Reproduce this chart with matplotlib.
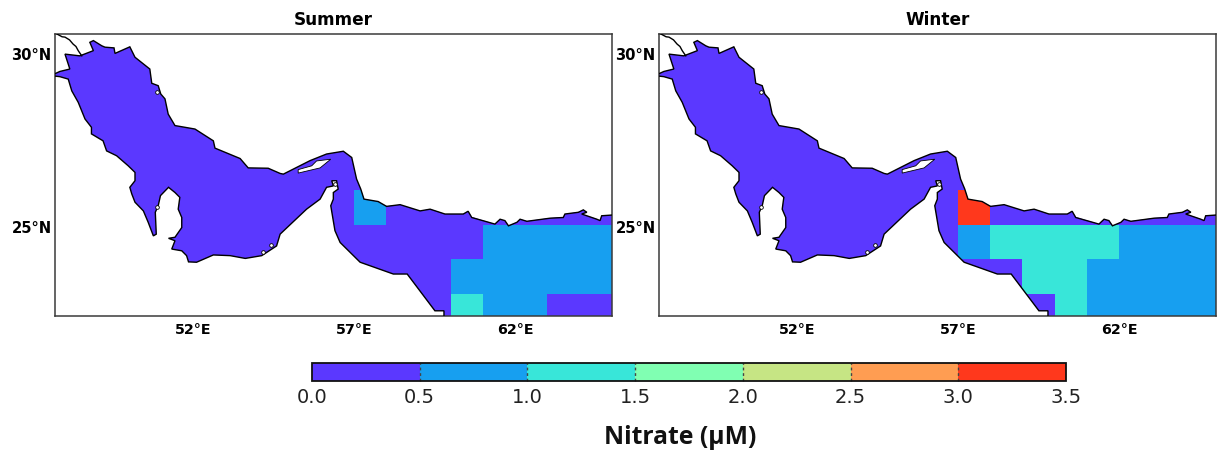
import numpy as np
import matplotlib
matplotlib.use("Agg")
import matplotlib.pyplot as plt
from matplotlib.colors import ListedColormap, BoundaryNorm
from matplotlib.patches import Polygon
from matplotlib.transforms import ScaledTranslation

W, H = 1221, 452

level_bounds = [0.0, 0.5, 1.0, 1.5, 2.0, 2.5, 3.0, 3.5]
level_colors = ["#5b38ff", "#179ff0", "#38e6d9", "#80ffb2", "#c6e584", "#ff9d52", "#ff381c"]

grid_lon = [57, 58, 59, 60, 61, 62, 63, 64, 65]
grid_lat = [22, 23, 24, 25, 26]

summer_values = [
    [0.25, 0.25, 0.25, 1.25, 0.75, 0.75, 0.25, 0.25],
    [0.25, 0.25, 0.25, 0.75, 0.75, 0.75, 0.75, 0.75],
    [0.25, 0.25, 0.25, 0.25, 0.75, 0.75, 0.75, 0.75],
    [0.75, 0.25, 0.25, 0.25, 0.25, 0.25, 0.25, 0.25],
]
winter_values = [
    [0.25, 0.25, 0.25, 1.25, 0.75, 0.75, 0.75, 0.75],
    [0.25, 0.25, 1.25, 1.25, 0.75, 0.75, 0.75, 0.75],
    [0.75, 1.25, 1.25, 1.25, 1.25, 0.75, 0.75, 0.75],
    [3.25, 0.25, 0.25, 0.25, 0.25, 0.25, 0.25, 0.25],
]

north_lon = [47.60, 47.88, 48.19, 48.04, 48.50, 48.92, 48.81, 48.92, 49.18, 49.28, 49.56, 49.59, 50.05, 50.21,
             50.67, 50.73, 50.93, 51.01, 51.14, 51.24, 51.45, 52.07, 52.64, 52.69, 53.47, 53.72, 54.34, 54.71,
             54.81, 55.64, 56.15, 56.67, 56.93, 57.08, 57.21, 57.31, 57.75, 58.01, 58.43, 59.05, 59.36, 59.82,
             60.39, 60.54, 60.65, 61.37, 61.53, 61.68, 61.79, 62.05, 62.15, 62.36, 63.08, 63.49, 63.54, 63.96,
             64.11, 64.22, 64.06, 64.53, 64.63, 64.68, 64.99, 65.30]
north_lat = [29.30, 29.42, 29.49, 29.92, 29.87, 30.02, 30.26, 30.31, 30.16, 30.12, 30.10, 29.94, 30.13, 29.83,
             29.49, 29.08, 29.01, 28.77, 28.63, 28.19, 27.86, 27.76, 27.42, 27.21, 26.91, 26.64, 26.63, 26.48,
             26.46, 26.85, 27.04, 27.12, 26.94, 26.32, 26.03, 25.74, 25.67, 25.53, 25.58, 25.40, 25.45, 25.31,
             25.31, 25.39, 25.21, 25.02, 25.16, 25.12, 24.97, 25.07, 25.16, 25.10, 25.19, 25.21, 25.31, 25.36,
             25.43, 25.36, 25.31, 25.16, 25.12, 25.26, 25.28, 25.28]

south_lon = [65.30, 59.79, 59.79, 59.51, 58.65, 58.22, 57.19, 56.57, 56.41, 56.28, 56.36, 56.36, 56.51, 56.46,
             56.31, 56.36, 56.15, 55.95, 55.53, 54.71, 54.60, 54.14, 53.63, 53.16, 52.64, 52.12, 51.87, 51.81,
             51.66, 51.35, 51.45, 51.25, 51.45, 51.66, 51.66, 51.55, 51.60, 51.45, 51.25, 51.00, 50.93, 50.84,
             50.87, 50.78, 50.62, 50.47, 50.21, 50.11, 50.05, 50.21, 50.21, 50.00, 49.64, 49.33, 49.22, 48.86,
             48.86, 48.66, 48.45, 48.25, 48.14, 47.88, 47.60]
south_lat = [22.10, 22.10, 22.52, 22.52, 23.58, 23.58, 23.92, 24.49, 24.83, 25.55, 25.74, 25.93, 26.03, 26.27,
             26.27, 26.12, 26.08, 25.74, 25.45, 24.73, 24.39, 24.11, 24.03, 24.11, 24.13, 23.92, 23.93, 24.11,
             24.25, 24.30, 24.54, 24.61, 24.64, 24.92, 25.21, 25.45, 25.79, 25.93, 26.08, 25.84, 25.55, 25.36,
             24.73, 24.68, 25.07, 25.40, 25.65, 25.89, 26.08, 26.27, 26.51, 26.70, 26.99, 27.13, 27.42, 27.62,
             27.81, 28.05, 28.53, 28.86, 29.20, 29.27, 29.30]

qeshm_lon = [55.27, 55.69, 55.84, 56.28, 55.95, 55.27]
qeshm_lat = [26.59, 26.70, 26.84, 26.89, 26.64, 26.49]
islet_lon = [50.90, 54.43, 54.19, 50.88, 56.42]
islet_lat = [28.82, 24.41, 24.22, 25.50, 26.18]

river_lon = [47.79, 47.95, 48.04, 48.18, 48.29, 48.38, 48.45, 48.56]
river_lat = [30.50, 30.42, 30.41, 30.33, 30.21, 30.14, 30.02, 29.87]

panel_titles = ["Summer", "Winter"]
lon_ticks = [52, 57, 62]
lat_ticks = [25, 30]

cmap = ListedColormap(level_colors)
norm = BoundaryNorm(level_bounds, cmap.N)
plt.rcParams["font.family"] = "DejaVu Sans"

fig = plt.figure(figsize=(W / 100, H / 100), dpi=100)


def box(x0, y0, x1, y1):
    return [x0 / W, 1 - y1 / H, (x1 - x0) / W, (y1 - y0) / H]


axes_boxes = [box(55, 35, 612, 317), box(659, 35, 1216, 317)]
mesh = None
for rect, title, vals in zip(axes_boxes, panel_titles, [summer_values, winter_values]):
    ax = fig.add_axes(rect)
    sea_xy = np.column_stack([north_lon + south_lon, north_lat + south_lat])
    sea = Polygon(sea_xy, closed=True, facecolor=level_colors[0], edgecolor="none", zorder=1)
    ax.add_patch(sea)
    mesh = ax.pcolormesh(grid_lon, grid_lat, np.array(vals), cmap=cmap, norm=norm, zorder=2)
    mesh.set_clip_path(sea)
    ax.add_patch(Polygon(sea_xy, closed=True, fill=False, edgecolor="black", linewidth=1.0, zorder=3))
    ax.add_patch(Polygon(np.column_stack([qeshm_lon, qeshm_lat]), closed=True, facecolor="white",
                         edgecolor="black", linewidth=0.6, zorder=4))
    ax.scatter(islet_lon, islet_lat, s=7, facecolor="white", edgecolor="black", linewidth=0.6, zorder=4)
    ax.plot(river_lon, river_lat, color="black", linewidth=1.0, zorder=3)
    ax.set_xlim(47.73, 65.0)
    ax.set_ylim(22.37, 30.50)
    ax.set_xticks(lon_ticks)
    ax.set_xticklabels([f"{v}°E" for v in lon_ticks], fontsize=10.3, fontweight="bold")
    ax.set_yticks(lat_ticks)
    ax.set_yticklabels([f"{v}°N" for v in lat_ticks], fontsize=10.6, fontweight="bold")
    ax.tick_params(axis="both", length=0)
    ax.tick_params(axis="x", pad=4)
    ax.tick_params(axis="y", pad=2.5)
    shift = ScaledTranslation(0, -1.0 / 72, fig.dpi_scale_trans)
    for lab in ax.get_yticklabels():
        lab.set_transform(lab.get_transform() + shift)
    for s in ax.spines.values():
        s.set_color("#3a3a3a")
        s.set_linewidth(1.1)
    ax.set_title(title, fontsize=12.2, fontweight="bold", pad=7)

cax = fig.add_axes(box(312, 364, 1066, 382))
cb = fig.colorbar(mesh, cax=cax, orientation="horizontal", ticks=level_bounds, drawedges=True)
cb.outline.set_edgecolor("#111111")
cb.outline.set_linewidth(1.3)
cb.dividers.set_color("#444444")
cb.dividers.set_linewidth(1.0)
cb.dividers.set_linestyle((0, (2, 2)))
cb.ax.set_xticklabels([f"{v:.1f}" for v in level_bounds], fontsize=14, color="#222222")
cb.ax.tick_params(axis="x", length=0, pad=4)

fig.text(680 / W, 1 - 438 / H, "Nitrate (µM)", fontsize=17.8, fontweight="bold",
         family="Open Sans", ha="center", va="center", color="#111111")

fig.savefig("out.png", dpi=100)
